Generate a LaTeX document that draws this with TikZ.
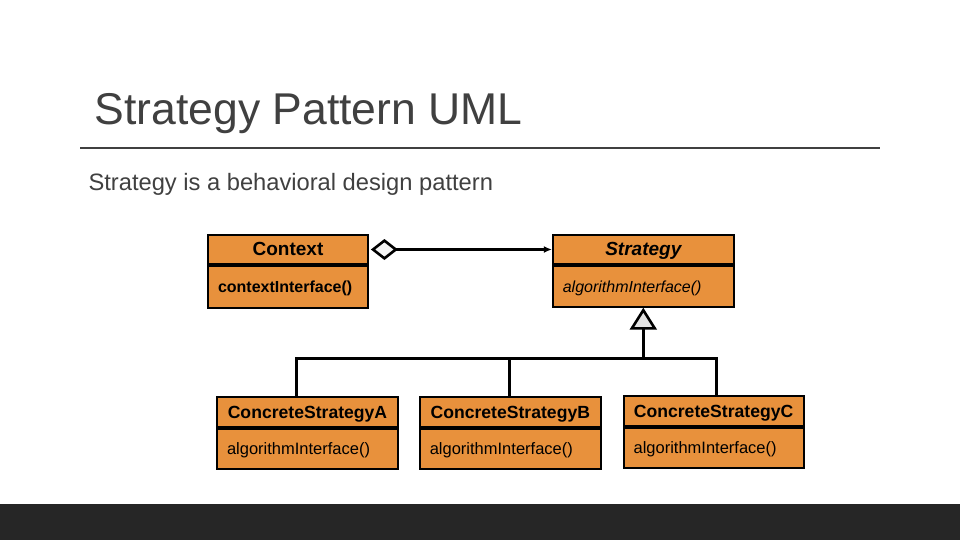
\documentclass[tikz,border=0pt]{standalone}
\usepackage{fontspec}
\setmainfont{Liberation Sans}
\usepackage{xcolor}
\usetikzlibrary{positioning,arrows.meta}
\definecolor{umlorange}{RGB}{232,145,60}
\definecolor{titlegray}{RGB}{64,64,64}
\definecolor{bargray}{RGB}{38,38,38}
\tikzset{
  uml/.style={draw=black, line width=1.8pt, fill=umlorange, inner ysep=0pt, text depth=0pt},
  head/.style={uml, inner xsep=0pt, align=center, minimum height=30pt, text height=12.6pt,
    font=\fontsize{17.6}{20}\selectfont\bfseries},
  meth/.style={uml, inner xsep=10pt, align=left, minimum height=40pt, text height=12pt,
    font=\fontsize{16.5}{19}\selectfont},
  link/.style={line width=2.6pt},
}

\begin{document}
\begin{tikzpicture}[x=1pt,y=-1pt]
  \useasboundingbox (0,0) rectangle (960,540);
  \fill[white] (0,0) rectangle (960,540);
  \fill[bargray] (0,504) rectangle (960,540);
  \node[anchor=base west, text=titlegray, font=\fontsize{44.5}{50}\selectfont] (title) at (91,125) {Strategy Pattern UML};
  \draw[titlegray, line width=1.5pt] (80,148) -- (880,148);
  \node[anchor=base west, text=titlegray, font=\fontsize{23.7}{28}\selectfont] (sub) at (85,190) {Strategy is a behavioral design pattern};

  \node[head, text width=160pt, minimum height=29pt, font=\fontsize{19}{21}\selectfont\bfseries] (ctx) at (288,249.5) {Context};
  \node[meth, text width=140pt, minimum height=42pt, font=\fontsize{16}{19}\selectfont\bfseries, below=0pt of ctx] (ctxm) {contextInterface()};
  \node[head, text width=181pt, minimum height=29pt, font=\fontsize{19}{21}\selectfont\bfseries\itshape, right=183pt of ctx] (strat) {Strategy};
  \node[meth, text width=161pt, minimum height=41pt, font=\fontsize{16}{19}\selectfont\itshape, below=0pt of strat] (stratm) {algorithmInterface()};

  \node[head, text width=181pt] (csa) at (307.5,412) {ConcreteStrategyA};
  \node[meth, text width=161pt, below=0pt of csa] (csam) {algorithmInterface()};
  \node[head, text width=181pt, right=20pt of csa] (csb) {ConcreteStrategyB};
  \node[meth, text width=161pt, below=0pt of csb] (csbm) {algorithmInterface()};
  \node[head, text width=180pt, right=21pt of csb, yshift=1pt] (csc) {ConcreteStrategyC};
  \node[meth, text width=160pt, below=0pt of csc] (cscm) {algorithmInterface()};

  \draw[link, {Diamond[fill=gray!8, length=27pt, width=21pt]}-{Latex[length=8pt, width=7pt]}, shorten <=2pt] (ctx.east) -- (strat.west);
  \coordinate (bus) at ([yshift=-51pt]stratm.south);
  \draw[link, -{Triangle[fill=gray!22, length=22pt, width=27pt]}] (bus) -- (stratm.south);
  \draw[link] ([xshift=-11pt]csa.north) |- (bus) -| ([xshift=3pt]csc.north);
  \draw[link] ([xshift=-1pt]csb.north) -- ([xshift=-1pt]csb.north |- bus);
\end{tikzpicture}
\end{document}
